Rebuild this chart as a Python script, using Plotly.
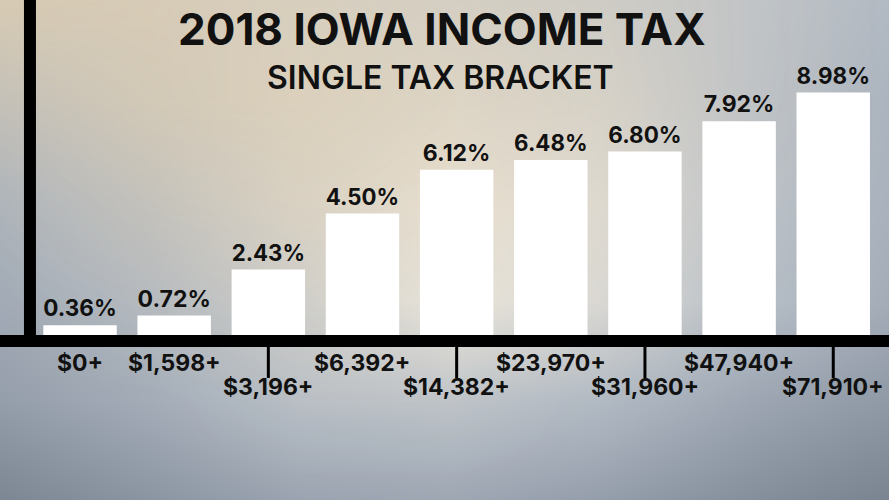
import plotly.graph_objects as go

# tax brackets (2018 Iowa, single filer)
brackets = ["$0+", "$1,598+", "$3,196+", "$6,392+", "$14,382+",
            "$23,970+", "$31,960+", "$47,940+", "$71,910+"]
rates = [0.36, 0.72, 2.43, 4.50, 6.12, 6.48, 6.80, 7.92, 8.98]

title = "2018 IOWA INCOME TAX"
subtitle = "SINGLE TAX BRACKET"

FONT = "Inter"
INK = "#111111"

# background glow, rough grid (pixel rows / cols)
bg_x = [0, 150, 300, 450, 600, 750, 889]
bg_y = [0, 100, 200, 300, 400, 500]
bg_light = [
    [0.62, 0.66, 0.72, 0.72, 0.70, 0.64, 0.56],
    [0.55, 0.62, 0.74, 0.80, 0.76, 0.63, 0.52],
    [0.50, 0.58, 0.76, 0.92, 0.84, 0.63, 0.50],
    [0.45, 0.55, 0.72, 0.94, 0.82, 0.60, 0.46],
    [0.36, 0.46, 0.60, 0.64, 0.56, 0.42, 0.33],
    [0.20, 0.30, 0.40, 0.42, 0.36, 0.26, 0.18],
]
bg_warm = [
    [0.60, 0.55, 0.45, 0.35, 0.25, 0.10, 0.00],
    [0.35, 0.50, 0.50, 0.40, 0.30, 0.10, 0.00],
    [0.10, 0.30, 0.40, 0.35, 0.25, 0.05, 0.00],
    [0.00, 0.10, 0.20, 0.20, 0.15, 0.00, 0.00],
    [0.00, 0.00, 0.05, 0.05, 0.00, 0.00, 0.00],
    [0.00, 0.00, 0.00, 0.00, 0.00, 0.00, 0.00],
]

fig = go.Figure()

# backdrop on the base axes
fig.add_trace(go.Heatmap(
    x=bg_x, y=bg_y, z=bg_light, zsmooth="best", showscale=False,
    zmin=0, zmax=1, hoverinfo="skip",
    colorscale=[[0, "#5f6a79"], [0.5, "#a9b2bd"], [1, "#f1f0ec"]],
))
fig.add_trace(go.Heatmap(
    x=bg_x, y=bg_y, z=bg_warm, zsmooth="best", showscale=False,
    zmin=0, zmax=1, hoverinfo="skip",
    colorscale=[[0, "rgba(234,208,165,0)"], [1, "rgba(234,208,165,1)"]],
))

# the bars on an overlaid axis pair so they sit above the backdrop
idx = list(range(len(rates)))
fig.add_trace(go.Bar(
    x=idx, y=rates, xaxis="x2", yaxis="y2",
    width=0.78, marker=dict(color="white", line=dict(width=0)),
    text=[f"{r:.2f}%" for r in rates], textposition="outside",
    textfont=dict(family=FONT, size=23, color=INK, weight=700),
    cliponaxis=False, hoverinfo="skip",
))

# axis bars
fig.add_shape(type="line", xref="paper", yref="paper",
              x0=0, x1=1, y0=0.318, y1=0.318,
              line=dict(color="black", width=12))
fig.add_shape(type="line", xref="paper", yref="paper",
              x0=0.0337, x1=0.0337, y0=0.306, y1=1,
              line=dict(color="black", width=12))

# staggered bracket labels, every other one drops to a second row
for i, lab in enumerate(brackets):
    low = i in (2, 4, 6, 8)
    if low:
        fig.add_shape(type="line", xref="x2", yref="paper",
                      x0=i, x1=i, y0=0.318, y1=0.244,
                      line=dict(color="black", width=3))
    fig.add_annotation(
        x=i, xref="x2", y=0.226 if low else 0.275, yref="paper",
        text=lab, showarrow=False, xanchor="center", yanchor="middle",
        font=dict(family=FONT, size=23, color=INK, weight=700),
    )

# title + subtitle, stacked edge to edge
fig.add_annotation(x=0.497, y=0.888, xref="paper", yref="paper",
                   text=title, showarrow=False, yanchor="bottom",
                   borderpad=0, borderwidth=0,
                   font=dict(family=FONT, size=44, color=INK, weight=700))
fig.add_annotation(x=0.496, y=0.884, xref="paper", yref="paper",
                   text=subtitle, showarrow=False, yanchor="top",
                   borderpad=0, borderwidth=0,
                   font=dict(family=FONT, size=32, color=INK, weight=600))

fig.update_layout(
    width=889, height=500,
    margin=dict(l=0, r=0, t=0, b=0),
    showlegend=False,
    paper_bgcolor="#a9b2bd", plot_bgcolor="rgba(0,0,0,0)",
    xaxis=dict(range=[0, 889], visible=False, fixedrange=True),
    yaxis=dict(range=[500, 0], visible=False, fixedrange=True),
    xaxis2=dict(overlaying="x", range=[-0.85, 8.592], visible=False),
    yaxis2=dict(overlaying="y", range=[-6.111, 12.407], visible=False),
)

fig.write_html("out.html", config={"displayModeBar": False},
               post_script="document.body.style.margin='0';"
                           "document.body.style.overflow='hidden';")
